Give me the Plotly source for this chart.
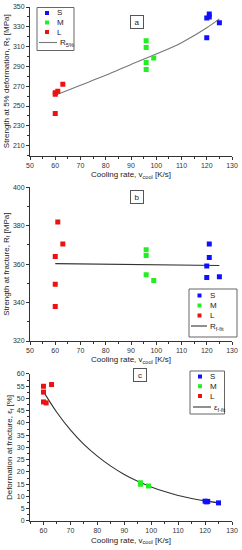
import plotly.graph_objects as go

# ---------------- data ----------------
series_names = ["S", "M", "L"]
series_colors = ["#1010ff", "#22ee22", "#ee1111"]

# panel a: strength at 5% deformation
a_x_S = [120, 121, 121, 120, 125]
a_y_S = [339, 340, 343, 319, 334]
a_x_M = [96, 96, 96, 96, 99]
a_y_M = [316, 309, 294, 287, 298.5]
a_x_L = [60, 60, 61, 63, 60]
a_y_L = [263.5, 262, 265, 272, 242.5]
a_fit_x = [60, 70, 80, 90, 100, 110, 120, 125]
a_fit_y = [261, 271, 281, 292, 302.5, 314, 329, 338]

# panel b: strength at fracture
b_x_S = [121, 121, 120, 120, 125]
b_y_S = [370.5, 363.5, 359, 353, 353.5]
b_x_M = [96, 96, 96, 99]
b_y_M = [367.5, 364.5, 354.5, 351.5]
b_x_L = [61, 63, 60, 60, 60]
b_y_L = [382, 370.5, 364, 349.5, 338]
b_fit_x = [60, 125]
b_fit_y = [360.3, 359.3]

# panel c: deformation at fracture
c_x_S = [120, 121, 120.5, 125]
c_y_S = [8.1, 8.0, 7.8, 7.4]
c_x_M = [96, 96, 99]
c_y_M = [15.6, 15.0, 14.3]
c_x_L = [60, 60, 63, 60, 61]
c_y_L = [55.0, 52.6, 55.7, 48.6, 48.2]
c_fit_x = [60, 65, 70, 75, 80, 85, 90, 95, 100, 105, 110, 115, 120, 125]
c_fit_y = [52.8, 44.3, 37.2, 31.3, 26.5, 22.4, 19.0, 16.2, 13.9, 12.0, 10.4, 9.2, 8.2, 7.4]

fit_names = ["R<sub>5%</sub>", "R<sub>f-fit</sub>", "ε<sub>f-fit</sub>"]
fit_colors = ["#777777", "#333333", "#333333"]
panel_labels = ["a", "b", "c"]

x_title = "Cooling rate, v<sub>cool</sub> [K/s]"
y_titles = ["Strength at 5% deformation, R<sub>5</sub> [MPa]",
            "Strength at fracture, R<sub>f</sub> [MPa]",
            "Deformation at fracture, ε<sub>f</sub> [%]"]

# ---------------- figure ----------------
W, H = 242, 550
ML, MR, MT, MB = 30, 10, 7, 29
PW, PH = W - ML - MR, H - MT - MB


def xp(px):
    return (px - ML) / PW


def yp(py):
    return (H - MB - py) / PH


FONT = "Liberation Sans, Arial, sans-serif"
TXT = "#222222"
fig = go.Figure()

panels = [
    ([a_x_S, a_x_M, a_x_L], [a_y_S, a_y_M, a_y_L], a_fit_x, a_fit_y),
    ([b_x_S, b_x_M, b_x_L], [b_y_S, b_y_M, b_y_L], b_fit_x, b_fit_y),
    ([c_x_S, c_x_M, c_x_L], [c_y_S, c_y_M, c_y_L], c_fit_x, c_fit_y),
]
axis_ids = ["", "2", "3"]
for i, (xs, ys, fx, fy) in enumerate(panels):
    xa, ya = "x" + axis_ids[i], "y" + axis_ids[i]
    fig.add_trace(go.Scatter(x=fx, y=fy, mode="lines", name=fit_names[i],
                             line=dict(color=fit_colors[i], width=1.1, shape="spline"),
                             xaxis=xa, yaxis=ya, showlegend=False))
    for j in range(3):
        fig.add_trace(go.Scatter(x=xs[j], y=ys[j], mode="markers", name=series_names[j],
                                 marker=dict(symbol="square", size=5, color=series_colors[j],
                                             line=dict(width=0)),
                                 xaxis=xa, yaxis=ya, showlegend=False))

axis_common = dict(showline=True, linecolor="#333333", linewidth=1, ticks="outside",
                   ticklen=3, tickwidth=1, tickcolor="#333333", showgrid=False, zeroline=False,
                   automargin=False,
                   tickfont=dict(size=7, color="#333333", family=FONT),
                   minor=dict(ticks="outside", ticklen=2, tickcolor="#333333"), mirror=False)

domains = [[0.711, 1.0], [0.3502, 0.6492], [0.0, 0.286]]
x_ranges = [[50, 130], [50, 130], [55, 130]]
y_ranges = [[200, 350], [320, 400], [0, 60]]
y_ticks = [[210, 230, 250, 270, 290, 310, 330, 350], [320, 340, 360, 380, 400],
           list(range(0, 61, 5))]
y_minor = [10, 10, 2.5]

layout = dict(width=W, height=H, margin=dict(l=ML, r=MR, t=MT, b=MB, autoexpand=False),
              paper_bgcolor="white", plot_bgcolor="white",
              font=dict(family=FONT, color=TXT), showlegend=False)
for i in range(3):
    xk = "xaxis" + axis_ids[i]
    yk = "yaxis" + axis_ids[i]
    layout[xk] = dict(axis_common, domain=[0, 1], range=x_ranges[i],
                      anchor="y" + axis_ids[i], tick0=50, dtick=10,
                      minor=dict(axis_common["minor"], dtick=5),
                      title=dict(text=x_title, font=dict(size=8, family=FONT, color=TXT),
                                 standoff=3))
    layout[yk] = dict(axis_common, domain=domains[i], range=y_ranges[i],
                      anchor="x" + axis_ids[i], tickvals=y_ticks[i],
                      minor=dict(axis_common["minor"], dtick=y_minor[i], tick0=0),
                      title=dict(text=y_titles[i], font=dict(size=8, family=FONT, color=TXT),
                                 standoff=2))
fig.update_layout(**layout)

# ---------------- panel labels (boxed) ----------------
label_pos = [(136.7, 15.3), (136.5, 196.5), (139.7, 382)]
for lab, (px, py) in zip(panel_labels, label_pos):
    fig.add_annotation(x=xp(px), y=yp(py), xref="paper", yref="paper", text=lab,
                       showarrow=False, font=dict(size=8, family=FONT, color=TXT),
                       bordercolor="#555555", borderwidth=1, borderpad=2, bgcolor="white",
                       width=8, height=8)

# ---------------- legends (drawn per panel) ----------------
# (box left, box top, box right, box bottom, marker x, text x, row y list, line x0, line x1)
legend_geo = [
    (37, 7.5, 74, 50.5, 47, 55, [13, 22.5, 32, 42.5], 39, 57),
    (189, 289, 237, 337, 199.5, 208, [295.5, 305.5, 315.5, 326], 191, 207),
    (190, 371, 224.5, 414, 200, 208, [376.5, 386.2, 396, 407], 193, 211),
]
for i, (bl, bt, br, bb, mx, tx, rows, lx0, lx1) in enumerate(legend_geo):
    fig.add_shape(type="rect", xref="paper", yref="paper", x0=xp(bl), x1=xp(br),
                  y0=yp(bb), y1=yp(bt), line=dict(color="#666666", width=1),
                  fillcolor="white", layer="above")
    for j in range(3):
        fig.add_shape(type="rect", xref="paper", yref="paper", xsizemode="pixel",
                      ysizemode="pixel", xanchor=xp(mx), yanchor=yp(rows[j]),
                      x0=-2, x1=2, y0=-2, y1=2, fillcolor=series_colors[j],
                      line=dict(width=0), layer="above")
        fig.add_annotation(x=xp(tx), y=yp(rows[j]), xref="paper", yref="paper",
                           text=series_names[j], showarrow=False, xanchor="left",
                           yanchor="middle",
                           font=dict(size=8, family=FONT, color=TXT))
    fig.add_shape(type="line", xref="paper", yref="paper", x0=xp(lx0), x1=xp(lx1),
                  y0=yp(rows[3]), y1=yp(rows[3]), line=dict(color=fit_colors[i], width=1.1),
                  layer="above")
    fig.add_annotation(x=xp(lx1 + 0.5), y=yp(rows[3] + 0.5), xref="paper", yref="paper",
                       text=fit_names[i], showarrow=False, xanchor="left", yanchor="middle",
                       font=dict(size=8, family=FONT, color=TXT))

fig.write_html("out.html", config={"displayModeBar": False},
               post_script="document.body.style.margin='0';document.body.style.padding='0';")
